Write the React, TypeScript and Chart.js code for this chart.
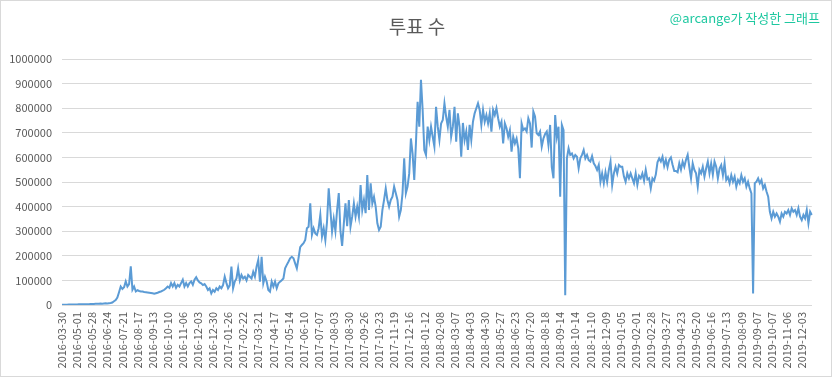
import { useEffect, useRef } from 'react';
import { Chart, registerables } from 'chart.js';

Chart.register(...registerables);

const chartTitle = '투표 수';
const watermark = '@arcange가 작성한 그래프';
const yMin = 0;
const yMax = 1000000;
const yStep = 100000;
const pointsPerTick = 9;

const tickLabels = [
  '2016-03-30', '2016-05-01', '2016-05-28', '2016-06-24', '2016-07-21', '2016-08-17', '2016-09-13', '2016-10-10', '2016-11-06', '2016-12-03',
  '2016-12-30', '2017-01-26', '2017-02-22', '2017-03-21', '2017-04-17', '2017-05-14', '2017-06-10', '2017-07-07', '2017-08-03', '2017-08-30',
  '2017-09-26', '2017-10-23', '2017-11-19', '2017-12-16', '2018-01-12', '2018-02-08', '2018-03-07', '2018-04-03', '2018-04-30', '2018-05-27',
  '2018-06-23', '2018-07-20', '2018-08-18', '2018-09-14', '2018-10-14', '2018-11-10', '2018-12-09', '2019-01-05', '2019-02-01', '2019-02-28',
  '2019-03-27', '2019-04-23', '2019-05-20', '2019-06-16', '2019-07-13', '2019-08-09', '2019-09-07', '2019-10-07', '2019-11-06', '2019-12-03',
];

const votes = [
  1000, 1200, 1500, 1500, 1800, 2000, 2000, 2200, 2500,
  2500, 2800, 3000, 3000, 3200, 3000, 3500, 3500, 4000,
  4000, 4500, 5000, 5500, 5000, 6000, 5500, 6500, 7000,
  6500, 7500, 8000, 10000, 15000, 20000, 30000, 52000, 75000,
  65000, 72000, 96000, 75000, 85000, 157000, 62000, 75000, 55000,
  60000, 57000, 55000, 55000, 53000, 52000, 51000, 50000, 49000,
  48000, 46000, 48000, 50000, 53000, 55000, 58000, 62000, 68000,
  75000, 70000, 89000, 75000, 89000, 70000, 82000, 75000, 89000,
  103000, 75000, 89000, 75000, 89000, 96000, 82000, 103000, 113000,
  100000, 92000, 88000, 81000, 85000, 75000, 61000, 68000, 47000,
  61000, 54000, 68000, 61000, 75000, 68000, 81000, 115000, 90000,
  68000, 80000, 156000, 68000, 95000, 108000, 149000, 100000, 122000,
  108000, 115000, 100000, 122000, 115000, 108000, 135000, 115000, 156000,
  183000, 95000, 196000, 88000, 115000, 95000, 61000, 54000, 95000,
  75000, 95000, 68000, 88000, 95000, 101000, 108000, 149000, 163000,
  176000, 190000, 196000, 190000, 169000, 149000, 190000, 235000, 244000,
  251000, 264000, 312000, 318000, 413000, 285000, 312000, 291000, 285000,
  312000, 366000, 278000, 312000, 264000, 339000, 474000, 386000, 298000,
  350000, 300000, 386000, 455000, 300000, 240000, 330000, 413000, 320000,
  427000, 318000, 359000, 413000, 359000, 400000, 359000, 488000, 386000,
  427000, 373000, 528000, 386000, 495000, 413000, 440000, 400000, 332000,
  305000, 318000, 386000, 427000, 474000, 427000, 400000, 427000, 440000,
  481000, 454000, 427000, 359000, 386000, 454000, 596000, 454000, 481000,
  535000, 677000, 616000, 508000, 657000, 826000, 725000, 915000, 793000,
  630000, 610000, 725000, 671000, 725000, 684000, 644000, 806000, 725000,
  671000, 738000, 752000, 820000, 766000, 725000, 793000, 684000, 725000,
  806000, 664000, 779000, 725000, 603000, 740000, 670000, 705000, 630000,
  732000, 671000, 745000, 779000, 800000, 820000, 793000, 732000, 793000,
  745000, 772000, 738000, 779000, 705000, 793000, 772000, 800000, 759000,
  725000, 745000, 657000, 738000, 718000, 684000, 711000, 623000, 684000,
  657000, 677000, 637000, 515000, 738000, 711000, 718000, 705000, 759000,
  738000, 640000, 786000, 766000, 698000, 691000, 705000, 644000, 677000,
  695000, 705000, 650000, 732000, 560000, 515000, 772000, 684000, 725000,
  440000, 732000, 711000, 40000, 596000, 637000, 610000, 616000, 596000,
  610000, 603000, 556000, 596000, 610000, 630000, 596000, 610000, 589000,
  583000, 605000, 576000, 565000, 549000, 569000, 501000, 535000, 495000,
  540000, 501000, 549000, 583000, 488000, 535000, 562000, 535000, 569000,
  562000, 562000, 522000, 501000, 535000, 515000, 535000, 515000, 495000,
  535000, 488000, 525000, 515000, 535000, 505000, 549000, 510000, 515000,
  474000, 515000, 505000, 530000, 580000, 596000, 583000, 603000, 565000,
  590000, 560000, 590000, 600000, 570000, 545000, 545000, 540000, 576000,
  550000, 583000, 562000, 590000, 610000, 560000, 515000, 576000, 549000,
  535000, 481000, 549000, 535000, 562000, 522000, 555000, 583000, 535000,
  575000, 530000, 583000, 562000, 515000, 555000, 569000, 528000, 576000,
  508000, 520000, 495000, 528000, 501000, 522000, 481000, 508000, 495000,
  528000, 501000, 515000, 481000, 501000, 474000, 454000, 47000, 495000,
  501000, 515000, 495000, 508000, 474000, 488000, 461000, 440000, 379000,
  352000, 379000, 359000, 372000, 359000, 339000, 372000, 359000, 379000,
  372000, 386000, 366000, 393000, 379000, 386000, 366000, 393000, 359000,
  345000, 366000, 352000, 386000, 332000, 379000, 366000,
];

const FONT = '"Noto Sans CJK KR", "Noto Sans", sans-serif';

export default function App() {
  const ref = useRef<HTMLCanvasElement>(null);

  useEffect(() => {
    document.body.style.margin = '0';
    const canvas = ref.current;
    if (!canvas) return;

    const categories = votes.map((_, i) =>
      i % pointsPerTick === 0 ? tickLabels[i / pointsPerTick] ?? '' : ''
    );

    const deco = {
      id: 'deco',
      beforeDraw(chart: any) {
        const ctx = chart.ctx;
        ctx.save();
        ctx.fillStyle = '#ffffff';
        ctx.fillRect(0, 0, chart.width, chart.height);
        ctx.restore();
      },
      afterDraw(chart: any) {
        const ctx = chart.ctx;
        ctx.save();
        ctx.strokeStyle = '#d9d9d9';
        ctx.lineWidth = 1;
        ctx.strokeRect(0.5, 0.5, chart.width - 1, chart.height - 3);
        ctx.fillStyle = '#595959';
        ctx.font = `19px ${FONT}`;
        ctx.textAlign = 'center';
        ctx.textBaseline = 'middle';
        ctx.fillText(chartTitle, 417, 27);
        ctx.fillStyle = '#1ec8a0';
        ctx.font = `13px ${FONT}`;
        ctx.textAlign = 'right';
        ctx.fillText(watermark, 820, 18);
        ctx.restore();
      },
    };

    const chart = new Chart(canvas, {
      type: 'line',
      data: {
        labels: categories,
        datasets: [
          {
            data: votes,
            borderColor: '#5b9bd5',
            borderWidth: 2,
            pointRadius: 0,
            tension: 0,
            fill: false,
          },
        ],
      },
      options: {
        responsive: false,
        animation: false,
        devicePixelRatio: 1,
        layout: { padding: { top: 59, right: 14, bottom: 0, left: 0 } },
        plugins: {
          legend: { display: false },
          title: { display: false },
          tooltip: { enabled: false },
        },
        scales: {
          x: {
            type: 'category',
            offset: false,
            grid: { display: false, drawTicks: false },
            border: { display: true, color: '#d9d9d9', width: 1 },
            ticks: {
              autoSkip: false,
              minRotation: 90,
              maxRotation: 90,
              padding: 7,
              color: '#595959',
              font: { family: FONT, size: 11 },
            },
            afterFit: (s: any) => {
              s.height = 74;
            },
          },
          y: {
            min: yMin,
            max: yMax,
            ticks: {
              stepSize: yStep,
              padding: 10,
              color: '#595959',
              font: { family: FONT, size: 11 },
              callback: (v: any) => String(v),
            },
            grid: { color: '#d9d9d9', drawTicks: false },
            border: { display: false },
            afterFit: (s: any) => {
              s.width = 62;
            },
          },
        },
      },
      plugins: [deco],
    });

    return () => chart.destroy();
  }, []);

  return (
    <div style={{ position: 'fixed', left: 0, top: 0, width: 832, height: 379 }}>
      <canvas ref={ref} width={832} height={379} style={{ display: 'block', width: 832, height: 379 }} />
    </div>
  );
}
